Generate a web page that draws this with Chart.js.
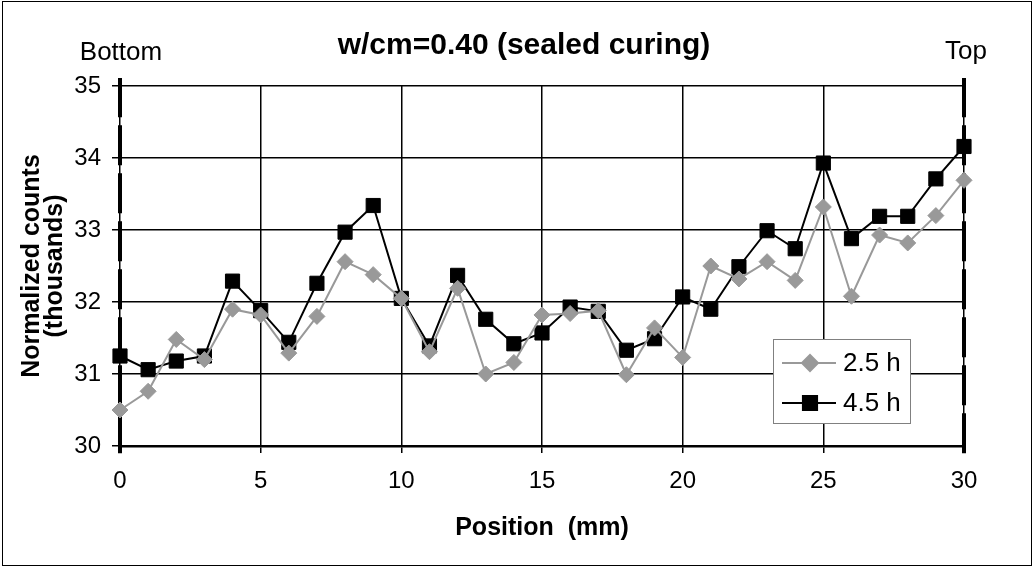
<!DOCTYPE html>
<html>
<head>
<meta charset="utf-8">
<script src="https://cdn.jsdelivr.net/npm/chart.js@4/dist/chart.umd.min.js"></script>
<style>
  body { margin: 0; background: #fff; }
</style>
</head>
<body>
<canvas id="profileChart" width="1033" height="567"></canvas>
<script>
// position along the specimen (mm); the last point lies just past the plot edge
const positions = [0, 1, 2, 3, 4, 5, 6, 7, 8, 9, 10, 11, 12, 13, 14, 15,
                   16, 17, 18, 19, 20, 21, 22, 23, 24, 25, 26, 27, 28, 29, 30, 31];
const counts25 = [30.50, 30.76, 31.48, 31.20, 31.90, 31.82, 31.29, 31.80, 32.56, 32.38,
                  32.05, 31.31, 32.19, 31.00, 31.16, 31.82, 31.84, 31.88, 30.99, 31.64,
                  31.23, 32.50, 32.32, 32.56, 32.30, 33.32, 32.08, 32.93, 32.82, 33.20,
                  33.69, 33.90];
const counts45 = [31.25, 31.06, 31.18, 31.25, 32.29, 31.88, 31.44, 32.26, 32.97, 33.34,
                  32.05, 31.39, 32.37, 31.76, 31.42, 31.57, 31.93, 31.87, 31.33, 31.49,
                  32.07, 31.90, 32.49, 32.99, 32.74, 33.93, 32.88, 33.19, 33.19, 33.71,
                  34.16, 34.44];
const seriesLabels = ['2.5 h', '4.5 h'];
const edgeLabels = ['Bottom', 'Top'];
const edgePositions = [0, 30];

const FONT = '"Liberation Sans", Arial, sans-serif';

function toPoints(ys) {
    return positions.map((x, i) => ({ x: x, y: ys[i] }));
}

function edgeLine(x) {
    return {
        data: [{ x: x, y: 29.9 }, { x: x, y: 35.11 }],
        borderColor: '#000',
        borderWidth: 4,
        borderDash: [40, 8],
        pointRadius: 0,
        clip: false
    };
}

// page frame, title and the Bottom / Top markers
const framePlugin = {
    id: 'frame',
    beforeDraw(chart) {
        const ctx = chart.ctx;
        ctx.save();
        ctx.fillStyle = '#fff';
        ctx.fillRect(0, 0, chart.width, chart.height);
        ctx.strokeStyle = '#000';
        ctx.lineWidth = 1;
        ctx.strokeRect(2.5, 1.5, chart.width - 4, chart.height - 3);
        ctx.restore();
    },
    afterDraw(chart) {
        const ctx = chart.ctx;
        const xs = chart.scales.x;
        ctx.save();
        ctx.fillStyle = '#000';
        ctx.textAlign = 'center';
        ctx.textBaseline = 'alphabetic';
        ctx.font = 'bold 30px ' + FONT;
        ctx.fillText('w/cm=0.40 (sealed curing)', 524, 54);
        ctx.font = '26px ' + FONT;
        ctx.fillText(edgeLabels[0], xs.getPixelForValue(edgePositions[0]) + 1, 60);
        ctx.fillText(edgeLabels[1], xs.getPixelForValue(edgePositions[1]) + 2, 59);

        // legend box inside the plot
        const box = { left: 773, top: 339, width: 137, height: 84 };
        ctx.fillStyle = '#fff';
        ctx.fillRect(box.left, box.top, box.width, box.height);
        ctx.strokeStyle = '#808080';
        ctx.lineWidth = 1;
        ctx.strokeRect(box.left + 0.5, box.top + 0.5, box.width, box.height);
        const rows = [363, 403];
        ctx.font = '26px ' + FONT;
        ctx.textAlign = 'left';
        ctx.textBaseline = 'middle';
        rows.forEach((y, i) => {
            const ds = chart.data.datasets[i];
            ctx.strokeStyle = ds.borderColor;
            ctx.lineWidth = ds.borderWidth;
            ctx.beginPath();
            ctx.moveTo(782, y);
            ctx.lineTo(836, y);
            ctx.stroke();
            ctx.fillStyle = ds.pointBackgroundColor;
            ctx.strokeStyle = ds.pointBorderColor;
            Chart.helpers.drawPoint(ctx, {
                pointStyle: ds.pointStyle,
                radius: ds.pointRadius,
                borderWidth: 1,
                rotation: 0
            }, 810, y);
            ctx.fillStyle = '#000';
            ctx.fillText(seriesLabels[i], 843, y + 1);
        });
        ctx.restore();
    }
};

const ctx = document.getElementById('profileChart').getContext('2d');
const profileChart = new Chart(ctx, {
    type: 'line',
    data: {
        datasets: [{
            label: seriesLabels[0],
            data: toPoints(counts25),
            borderColor: '#999999',
            borderWidth: 2,
            pointStyle: 'rectRot',
            pointRadius: 8,
            pointBackgroundColor: '#999999',
            pointBorderColor: '#999999',
            pointBorderWidth: 1,
            clip: { left: 12, top: 12, right: 11, bottom: 12 }
        }, {
            label: seriesLabels[1],
            data: toPoints(counts45),
            borderColor: '#000000',
            borderWidth: 2,
            pointStyle: 'rect',
            pointRadius: 10,
            pointBackgroundColor: '#000000',
            pointBorderColor: '#000000',
            pointBorderWidth: 1,
            clip: { left: 12, top: 12, right: 11, bottom: 12 }
        },
        edgeLine(edgePositions[0]),
        edgeLine(edgePositions[1])]
    },
    options: {
        responsive: false,
        animation: false,
        devicePixelRatio: 1,
        layout: { padding: { top: 86, right: 69, bottom: 0, left: 0 } },
        plugins: {
            legend: { display: false },
            tooltip: { enabled: false }
        },
        scales: {
            x: {
                type: 'linear',
                min: 0,
                max: 30,
                ticks: { stepSize: 5, padding: 14, color: '#000', font: { family: FONT, size: 24 } },
                grid: { color: '#000', lineWidth: 1.5, tickLength: 7 },
                border: { color: '#000', width: 2.5 },
                title: {
                    display: true,
                    text: 'Position  (mm)',
                    color: '#000',
                    font: { family: FONT, size: 25, weight: 'bold' },
                    padding: { top: 0, bottom: 24 }
                },
                afterFit(scale) { scale.height = 121; }
            },
            y: {
                min: 30,
                max: 35,
                ticks: { stepSize: 1, padding: 11, color: '#000', font: { family: FONT, size: 24 } },
                grid: { color: '#000', lineWidth: 1.5, tickLength: 8 },
                border: { display: false },
                title: {
                    display: true,
                    text: ['Normalized counts', '(thousands)'],
                    color: '#000',
                    font: { family: FONT, size: 25, weight: 'bold', lineHeight: 0.9 },
                    padding: { top: 21, bottom: 0 }
                },
                afterFit(scale) { scale.width = 120; }
            }
        }
    },
    plugins: [framePlugin]
});
</script>
</body>
</html>
